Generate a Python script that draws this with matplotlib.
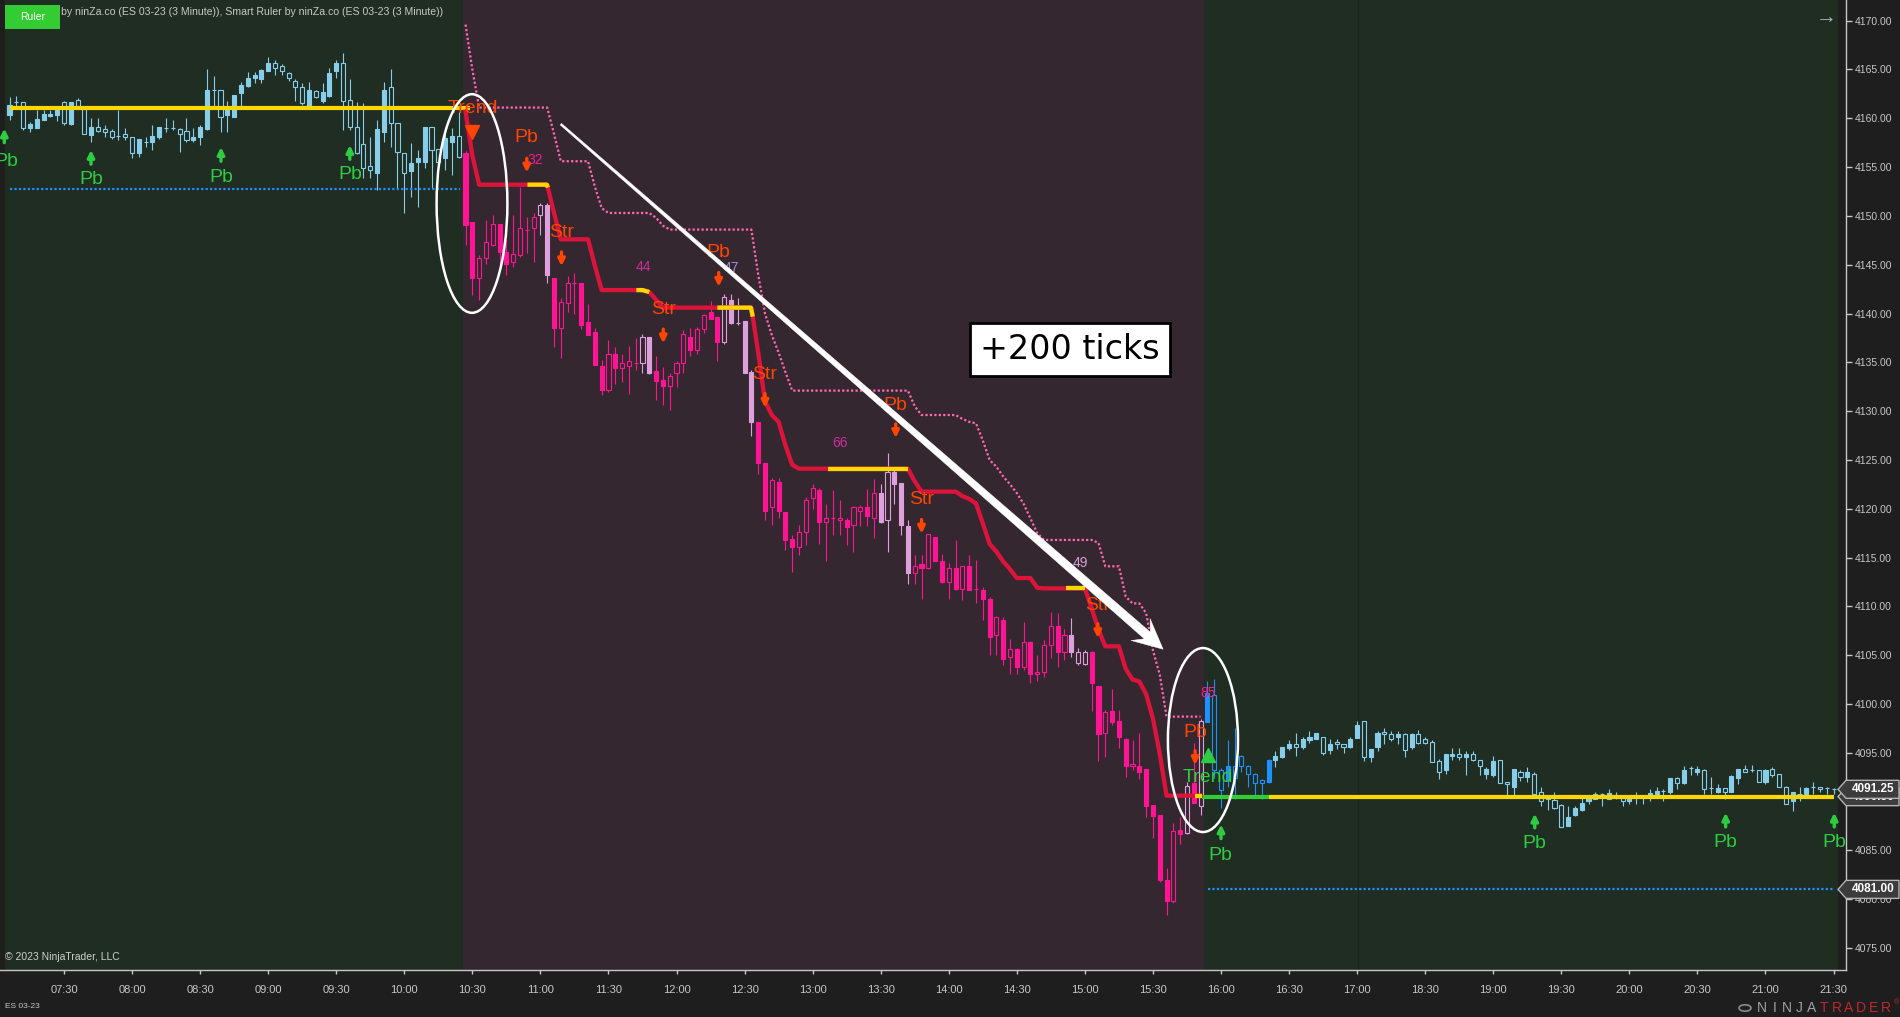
import numpy as np
import matplotlib
matplotlib.use("Agg")
import matplotlib.pyplot as plt
from matplotlib.patches import Ellipse, Polygon, Rectangle, Circle
from matplotlib.collections import LineCollection

plt.rcParams['font.family'] = ['Liberation Sans', 'DejaVu Sans']

# ---------------- data (ES 03-23, 3 minute bars) ----------------
opens = [
    4160.34, 4161.63, 4161.63, 4159.04, 4159.04, 4159.82, 4160.23, 4160.34, 4161.70, 4159.38,
    4161.87, 4160.92, 4158.29, 4159.07, 4158.90, 4158.73, 4158.19, 4158.36, 4158.12, 4156.41,
    4157.60, 4157.60, 4158.12, 4159.04, 4159.04, 4158.87, 4158.70, 4157.78, 4158.12, 4158.87,
    4162.90, 4162.90, 4160.34, 4160.10, 4162.62, 4163.34, 4164.09, 4164.02, 4164.88, 4165.63,
    4165.36, 4164.61, 4163.85, 4163.17, 4161.26, 4162.83, 4161.77, 4162.28, 4164.88, 4165.63,
    4161.87, 4159.07, 4157.37, 4155.11, 4154.36, 4158.63, 4163.17, 4159.55, 4156.41, 4154.63,
    4155.56, 4155.56, 4159.07, 4156.82, 4155.90, 4157.60, 4158.19,
    4156.40, 4149.40, 4143.60,
    4145.65, 4147.00, 4149.14, 4146.30, 4145.30, 4146.00, 4148.60, 4148.80, 4150.10, 4151.10,
    4143.60, 4138.50, 4141.10, 4143.10, 4143.10, 4139.10, 4138.10, 4134.60, 4132.20, 4135.85,
    4134.40, 4134.60, 4134.90, 4134.90, 4137.60, 4134.10, 4133.20, 4132.60, 4133.90, 4134.90,
    4137.60, 4136.30, 4138.40, 4140.20, 4139.60, 4137.10, 4141.40, 4139.06, 4139.20, 4134.00,
    4128.90, 4124.65, 4120.14, 4122.70, 4119.70, 4116.90, 4116.10, 4117.60, 4121.05, 4121.90,
    4118.60, 4119.10, 4118.80, 4118.80, 4118.30, 4119.80, 4120.14, 4119.10, 4121.60, 4118.80,
    4123.80, 4122.60, 4118.20, 4113.40, 4114.30, 4113.90, 4117.10, 4114.60, 4112.50, 4113.90,
    4111.80, 4114.10, 4111.80, 4111.70, 4110.80, 4107.06, 4108.60, 4104.84, 4105.60, 4103.80,
    4106.30, 4103.10, 4103.30, 4106.00, 4107.98, 4105.35, 4107.06, 4104.16, 4104.10, 4105.35,
    4101.80, 4097.05, 4099.30, 4098.20, 4096.40, 4093.60, 4093.60, 4093.30, 4089.60, 4088.60,
    4082.00, 4079.80, 4087.10, 4086.80, 4091.90, 4089.50,
    4098.10, 4100.90, 4093.20, 4092.20,
    4093.60, 4094.70, 4093.60, 4092.80, 4092.20, 4092.00, 4094.30, 4094.60, 4095.50, 4095.90,
    4095.55, 4096.30, 4096.40, 4096.60, 4095.30, 4096.10, 4095.90, 4095.55, 4096.50, 4098.20,
    4094.60, 4095.55, 4097.10, 4096.90, 4096.60, 4096.90, 4095.55, 4096.90, 4096.40, 4096.10,
    4094.20, 4093.20, 4094.70, 4094.90, 4094.60, 4094.90, 4094.30, 4092.80, 4092.70, 4094.30,
    4092.00, 4091.50, 4093.05, 4092.50, 4092.80, 4091.00, 4090.40, 4090.15, 4089.60, 4087.45,
    4088.60, 4089.10, 4090.10, 4090.30, 4090.80, 4090.30, 4090.70, 4090.60, 4090.10, 4090.60,
    4090.60, 4090.60, 4090.80, 4091.10, 4091.00, 4092.40, 4091.90, 4093.40, 4093.05, 4093.20,
    4091.35, 4091.00, 4091.35, 4091.00, 4092.40, 4093.30, 4093.20, 4093.20, 4092.00, 4093.30,
    4092.80, 4091.50, 4090.10, 4090.80, 4090.80, 4091.50, 4091.50, 4091.35, 4091.30,
]
highs = [
    4162.21, 4162.28, 4161.63, 4159.65, 4160.85, 4160.85, 4160.85, 4160.85, 4161.77, 4161.70,
    4162.04, 4160.92, 4159.99, 4159.99, 4159.31, 4158.87, 4160.85, 4158.97, 4158.12, 4157.84,
    4158.12, 4159.31, 4159.07, 4159.99, 4159.82, 4158.97, 4159.99, 4158.97, 4159.31, 4165.01,
    4164.33, 4162.90, 4161.77, 4162.39, 4163.75, 4164.78, 4164.78, 4165.01, 4166.31, 4165.97,
    4165.56, 4164.78, 4163.99, 4163.58, 4163.75, 4162.90, 4163.58, 4165.12, 4165.97, 4166.72,
    4163.99, 4161.70, 4161.53, 4158.12, 4159.82, 4163.75, 4165.01, 4159.55, 4156.41, 4157.50,
    4156.75, 4159.07, 4159.07, 4156.82, 4158.97, 4158.97, 4160.68,
    4156.60, 4149.40, 4146.00,
    4149.60, 4150.10, 4149.20, 4147.50, 4150.10, 4153.00, 4149.90, 4150.30, 4151.30, 4151.30,
    4143.60, 4141.55, 4143.80, 4144.20, 4143.10, 4141.00, 4138.50, 4135.20, 4137.30, 4136.60,
    4135.90, 4136.70, 4137.50, 4137.95, 4137.60, 4135.60, 4134.50, 4133.90, 4135.10, 4138.30,
    4138.50, 4138.60, 4139.95, 4141.30, 4139.70, 4142.00, 4142.00, 4141.55, 4139.20, 4134.20,
    4128.90, 4124.65, 4123.10, 4123.10, 4119.70, 4117.30, 4118.30, 4121.20, 4122.50, 4122.10,
    4120.50, 4121.90, 4120.90, 4119.00, 4120.30, 4120.40, 4122.00, 4123.00, 4122.50, 4125.70,
    4124.30, 4122.60, 4118.80, 4115.30, 4115.30, 4117.40, 4117.10, 4115.40, 4114.40, 4116.80,
    4114.10, 4115.30, 4114.75, 4112.00, 4111.00, 4109.00, 4108.90, 4106.70, 4105.70, 4108.40,
    4106.40, 4105.00, 4106.55, 4109.45, 4109.30, 4107.70, 4108.80, 4105.70, 4105.50, 4105.40,
    4101.80, 4099.40, 4101.50, 4099.40, 4096.50, 4096.30, 4097.00, 4093.30, 4089.60, 4088.60,
    4083.20, 4087.80, 4088.40, 4092.00, 4096.00, 4098.50,
    4102.30, 4102.60, 4093.40, 4096.30,
    4097.50, 4094.80, 4093.70, 4092.90, 4092.30, 4094.40, 4095.20, 4095.60, 4096.30, 4097.00,
    4096.60, 4097.20, 4097.00, 4096.60, 4096.40, 4096.40, 4095.90, 4096.60, 4098.20, 4098.30,
    4095.40, 4097.20, 4097.50, 4097.20, 4097.20, 4097.00, 4097.00, 4097.30, 4096.60, 4096.30,
    4094.40, 4094.90, 4095.50, 4095.50, 4095.20, 4095.20, 4094.30, 4093.50, 4094.70, 4094.30,
    4092.00, 4093.30, 4093.20, 4093.50, 4093.05, 4091.45, 4090.60, 4091.00, 4089.70, 4089.50,
    4089.50, 4090.40, 4090.60, 4091.00, 4090.90, 4091.30, 4091.00, 4090.60, 4090.60, 4091.00,
    4090.60, 4091.30, 4091.50, 4091.30, 4092.40, 4092.50, 4093.60, 4093.60, 4093.60, 4093.30,
    4092.50, 4091.80, 4091.35, 4092.70, 4093.30, 4093.70, 4093.70, 4093.20, 4093.30, 4093.50,
    4092.80, 4091.60, 4091.00, 4091.45, 4091.45, 4092.00, 4091.50, 4091.45, 4091.40,
]
lows = [
    4159.82, 4161.19, 4158.80, 4158.63, 4159.04, 4159.82, 4160.10, 4159.76, 4159.31, 4159.31,
    4161.29, 4158.36, 4157.60, 4158.63, 4158.12, 4157.84, 4157.78, 4157.78, 4155.90, 4156.07,
    4157.09, 4156.75, 4157.84, 4158.63, 4158.80, 4156.58, 4157.60, 4157.60, 4157.26, 4158.80,
    4161.19, 4158.63, 4158.63, 4160.10, 4161.19, 4163.24, 4163.58, 4163.58, 4164.88, 4164.43,
    4164.43, 4163.85, 4161.77, 4161.36, 4161.19, 4162.04, 4161.53, 4162.21, 4164.09, 4158.80,
    4158.80, 4156.34, 4153.85, 4153.85, 4152.65, 4157.60, 4157.09, 4152.82, 4150.33, 4151.97,
    4150.95, 4154.87, 4152.82, 4155.56, 4154.70, 4154.19, 4155.90,
    4147.00, 4141.90, 4141.40,
    4145.10, 4146.90, 4145.00, 4143.90, 4144.80, 4145.80, 4146.20, 4145.30, 4148.00, 4143.10,
    4136.60, 4135.40, 4140.20, 4140.00, 4138.40, 4137.80, 4134.70, 4131.65, 4132.00, 4132.80,
    4133.00, 4131.80, 4134.20, 4133.90, 4133.80, 4131.10, 4130.60, 4130.10, 4132.50, 4133.90,
    4135.60, 4135.85, 4138.00, 4139.40, 4135.10, 4136.90, 4138.90, 4138.80, 4133.90, 4127.40,
    4123.60, 4118.80, 4118.30, 4119.10, 4115.80, 4113.50, 4115.30, 4116.30, 4120.00, 4116.40,
    4114.60, 4117.30, 4117.30, 4116.30, 4115.60, 4118.20, 4118.20, 4117.00, 4118.50, 4115.60,
    4120.50, 4117.30, 4112.30, 4112.30, 4110.80, 4113.80, 4114.60, 4112.40, 4110.80, 4111.70,
    4110.60, 4111.70, 4110.30, 4108.60, 4105.00, 4105.00, 4104.00, 4103.10, 4103.10, 4103.50,
    4102.10, 4102.30, 4102.80, 4104.67, 4103.80, 4104.50, 4104.80, 4104.00, 4104.00, 4099.30,
    4094.20, 4094.60, 4097.80, 4095.50, 4092.50, 4093.20, 4092.30, 4088.40, 4086.30, 4081.80,
    4078.40, 4079.60, 4085.60, 4086.70, 4089.80, 4088.60,
    4098.10, 4092.40, 4089.30, 4091.50,
    4090.30, 4093.05, 4091.50, 4090.70, 4090.30, 4091.90, 4093.50, 4094.50, 4095.30, 4094.70,
    4095.40, 4096.00, 4096.40, 4094.80, 4094.90, 4095.40, 4095.00, 4095.50, 4096.50, 4094.20,
    4094.10, 4095.20, 4095.90, 4096.20, 4095.90, 4094.60, 4095.40, 4095.90, 4095.90, 4094.00,
    4092.30, 4092.80, 4094.30, 4094.30, 4092.70, 4094.20, 4092.70, 4092.30, 4092.50, 4091.90,
    4090.50, 4090.70, 4092.10, 4092.00, 4090.50, 4089.50, 4089.10, 4089.20, 4087.35, 4087.45,
    4088.50, 4089.05, 4089.70, 4090.30, 4089.50, 4090.30, 4090.30, 4089.50, 4089.70, 4089.70,
    4089.70, 4090.10, 4090.60, 4090.10, 4090.80, 4091.25, 4091.80, 4092.70, 4092.70, 4090.80,
    4090.80, 4090.90, 4090.30, 4091.00, 4091.80, 4093.05, 4093.05, 4092.00, 4091.80, 4092.50,
    4091.50, 4089.70, 4089.06, 4090.10, 4090.80, 4090.80, 4091.00, 4090.80, 4090.80,
]
closes = [
    4161.36, 4161.63, 4158.97, 4159.41, 4159.93, 4160.44, 4160.44, 4160.85, 4159.48, 4161.70,
    4161.29, 4158.36, 4159.07, 4158.70, 4158.63, 4158.12, 4158.19, 4158.12, 4156.41, 4157.84,
    4157.60, 4158.19, 4159.07, 4159.04, 4159.04, 4158.40, 4157.78, 4158.12, 4159.07, 4162.90,
    4162.90, 4160.10, 4160.92, 4162.39, 4163.41, 4164.09, 4164.43, 4164.95, 4165.63, 4165.12,
    4164.88, 4164.09, 4163.17, 4161.60, 4162.90, 4162.21, 4162.66, 4164.67, 4165.63, 4161.80,
    4159.07, 4156.41, 4154.87, 4154.70, 4158.87, 4162.90, 4159.55, 4156.58, 4154.36, 4155.38,
    4155.90, 4159.07, 4156.75, 4155.56, 4157.95, 4158.19, 4156.07,
    4149.07, 4143.60, 4145.65,
    4147.36, 4149.14, 4146.30, 4145.10, 4146.10, 4148.80, 4148.60, 4149.90, 4151.10, 4143.90,
    4138.50, 4141.20, 4143.10, 4143.10, 4138.80, 4137.80, 4134.70, 4132.20, 4135.85, 4134.40,
    4134.90, 4135.10, 4134.90, 4137.60, 4133.90, 4133.10, 4132.60, 4133.60, 4134.90, 4137.90,
    4136.30, 4138.40, 4139.80, 4139.40, 4137.10, 4141.65, 4139.06, 4139.06, 4133.90, 4128.90,
    4124.65, 4119.80, 4122.90, 4119.80, 4116.80, 4116.10, 4117.60, 4120.90, 4122.10, 4118.60,
    4119.10, 4119.10, 4119.10, 4118.10, 4120.14, 4120.14, 4119.25, 4121.60, 4118.60, 4123.80,
    4122.50, 4118.30, 4113.40, 4114.10, 4113.90, 4117.40, 4114.60, 4112.50, 4113.90, 4111.80,
    4114.10, 4111.70, 4111.80, 4110.80, 4106.90, 4108.87, 4104.57, 4105.60, 4103.80, 4106.30,
    4103.10, 4103.30, 4106.00, 4107.98, 4105.35, 4107.06, 4105.35, 4105.35, 4105.35, 4102.10,
    4096.90, 4099.20, 4098.10, 4096.60, 4093.60, 4093.85, 4093.05, 4089.50, 4088.50, 4081.96,
    4079.80, 4087.00, 4086.70, 4091.60, 4089.90, 4098.30,
    4101.10, 4093.20, 4091.20, 4093.60,
    4092.40, 4093.60, 4092.80, 4091.90, 4091.90, 4094.30, 4094.70, 4095.55, 4095.90, 4095.55,
    4096.40, 4096.60, 4097.00, 4095.00, 4095.90, 4095.90, 4095.55, 4096.40, 4097.80, 4094.60,
    4095.35, 4097.00, 4096.90, 4096.40, 4096.90, 4095.30, 4096.90, 4096.00, 4096.00, 4094.10,
    4093.05, 4094.90, 4094.90, 4094.60, 4094.90, 4094.30, 4093.60, 4093.30, 4094.20, 4091.90,
    4091.80, 4093.30, 4092.50, 4093.05, 4090.80, 4090.10, 4090.25, 4089.30, 4087.35, 4088.40,
    4089.30, 4089.80, 4090.40, 4090.80, 4090.80, 4090.90, 4090.70, 4090.10, 4090.40, 4090.60,
    4090.60, 4090.90, 4091.10, 4091.10, 4092.40, 4091.90, 4093.20, 4093.40, 4093.30, 4091.25,
    4091.35, 4091.35, 4091.00, 4092.60, 4093.30, 4093.05, 4093.20, 4092.00, 4093.20, 4092.70,
    4091.50, 4089.70, 4091.00, 4090.80, 4091.35, 4091.50, 4091.25, 4091.35, 4091.25,
]

# trend state: bars before 67 and from 176 on are up/flat, in between down
down_trend_start = 67
up_trend_start = 176
signal_bars_end = 185
pullback_bars = [78, 79, 93, 94, 105, 106, 107, 108, 109, 128, 129, 130, 131, 132,
                 156, 157, 158, 173, 175]

# trailing trend line and dotted stop line, bars 67..175
trend_line = [
    4160.7, 4156.2, 4153.2, 4153.2, 4153.2, 4153.2, 4153.2, 4153.2, 4153.2, 4153.2,
    4153.2, 4153.2, 4153.2, 4150.3, 4147.6, 4147.6, 4147.6, 4147.6, 4147.6, 4144.9,
    4142.4, 4142.4, 4142.4, 4142.4, 4142.4, 4142.4, 4142.4, 4142.2, 4141.4, 4140.6,
    4140.6, 4140.6, 4140.6, 4140.6, 4140.6, 4140.6, 4140.6, 4140.6, 4140.6, 4140.6,
    4140.6, 4140.6, 4140.6, 4136.0, 4131.0, 4129.6, 4128.9, 4126.5, 4124.5, 4124.1,
    4124.1, 4124.1, 4124.1, 4124.1, 4124.1, 4124.1, 4124.1, 4124.1, 4124.1, 4124.1,
    4124.1, 4124.1, 4124.1, 4124.1, 4124.1, 4124.1, 4122.8, 4121.75, 4121.75, 4121.75,
    4121.75, 4121.75, 4121.75, 4121.3, 4121.0, 4120.55, 4118.5, 4116.4, 4115.6, 4114.6,
    4113.8, 4112.9, 4112.9, 4112.9, 4111.9, 4111.84, 4111.84, 4111.84, 4111.84, 4111.84,
    4111.84, 4111.84, 4109.8, 4107.6, 4105.9, 4105.9, 4105.9, 4103.6, 4102.5, 4102.3,
    4101.0, 4098.5, 4094.9, 4090.6, 4090.6, 4090.6, 4090.6, 4090.6, 4090.6,
]
stop_line = [
    4169.6, 4165.0, 4161.1, 4161.1, 4161.1, 4161.1, 4161.1, 4161.1, 4161.1, 4161.1,
    4161.1, 4161.1, 4161.1, 4158.4, 4155.6, 4155.6, 4155.6, 4155.6, 4155.6, 4153.0,
    4150.8, 4150.3, 4150.3, 4150.3, 4150.3, 4150.3, 4150.3, 4150.3, 4149.8, 4149.0,
    4148.6, 4148.6, 4148.6, 4148.6, 4148.6, 4148.6, 4148.6, 4148.6, 4148.6, 4148.6,
    4148.6, 4148.6, 4148.6, 4144.0, 4140.0, 4137.8, 4136.0, 4134.0, 4132.1, 4132.1,
    4132.1, 4132.1, 4132.1, 4132.1, 4132.1, 4132.1, 4132.1, 4132.1, 4132.1, 4132.1,
    4132.1, 4132.1, 4132.1, 4132.1, 4132.1, 4132.1, 4130.5, 4129.6, 4129.6, 4129.6,
    4129.6, 4129.6, 4129.6, 4129.2, 4128.9, 4128.75, 4127.0, 4125.0, 4124.3, 4123.3,
    4122.5, 4121.6, 4120.5, 4119.0, 4117.5, 4116.8, 4116.8, 4116.8, 4116.8, 4116.8,
    4116.8, 4116.8, 4116.8, 4116.5, 4114.1, 4114.1, 4114.1, 4111.0, 4110.3, 4110.3,
    4109.3, 4105.5, 4103.0, 4098.7, 4098.7, 4098.7, 4098.7, 4098.7, 4098.7,
]
pullback_segments = [(76.1, 79.1), (92.1, 94.0), (104.0, 109.2), (120.3, 132.0),
                     (155.2, 158.0), (174.2, 175.2)]

ruler_am, stop_am = 4161.1, 4152.8
ruler_pm, stop_pm = 4090.5, 4081.0

# signal labels
label_text = ['Trend', 'Pb', 'Str', 'Str', 'Pb', 'Str', 'Pb', 'Str', 'Str', 'Pb',
              'Trend', 'Pb', 'Pb', 'Pb', 'Pb', 'Pb', 'Pb', 'Pb', 'Pb']
label_bar = [68.1, 76.0, 81.1, 96.05, 104.2, 111.0, 130.2, 134.0, 159.9, 174.2,
             176.0, -0.42, 12.07, 31.07, 50.0, 177.85, 224.1, 252.15, 268.1]
label_price = [4161.0, 4158.0, 4148.3, 4140.4, 4146.2, 4133.7, 4130.6, 4120.9, 4110.1, 4097.05,
               4092.5, 4155.55, 4153.7, 4153.95, 4154.2, 4084.5, 4085.7, 4085.8, 4085.8]
label_side = ['dn'] * 10 + ['up'] * 9

down_arrow_bar = [76.0, 81.1, 96.05, 104.2, 111.0, 130.2, 134.0, 159.9, 174.2]
down_arrow_top = [4155.9, 4146.3, 4138.4, 4144.2, 4131.8, 4128.7, 4118.9, 4108.2, 4095.2]
up_arrow_bar = [-0.77, 11.97, 31.07, 50.0, 178.0, 224.1, 252.15, 268.1]
up_arrow_base = [4157.5, 4155.3, 4155.6, 4155.8, 4086.2, 4087.3, 4087.4, 4087.4]

count_text = ['32', '44', '47', '66', '49', '85']
count_bar = [77.2, 93.2, 106.1, 122.0, 157.3, 176.1]
count_price = [4155.7, 4144.8, 4144.7, 4126.7, 4114.4, 4101.15]
count_color = ['#e8208f', '#c8309f', '#9a8fd0', '#c8309f', '#d8a0d8', '#ff1a8c']

time_labels = ['07:30', '08:00', '08:30', '09:00', '09:30', '10:00', '10:30', '11:00',
               '11:30', '12:00', '12:30', '13:00', '13:30', '14:00', '14:30', '15:00',
               '15:30', '16:00', '16:30', '17:00', '18:30', '19:00', '19:30', '20:00',
               '20:30', '21:00', '21:30']
price_ticks = [4075, 4080, 4085, 4090, 4095, 4100, 4105, 4110, 4115, 4120,
               4125, 4130, 4135, 4140, 4145, 4150, 4155, 4160, 4165, 4170]

# ---------------- styling ----------------
BG = '#1e1e1e'
GREEN_BG = '#202d22'
MAROON_BG = '#35272f'
TXT = '#c8c8c8'
ORANGE = '#ff4500'
LIME = '#2ecc40'

n = len(closes)

# bar times -> positions of time labels (17:00-18:00 session break)
bar_times = []
for k in range(199):
    m = 7 * 60 + 6 + 3 * k
    bar_times.append('%02d:%02d' % (m // 60, m % 60))
for k in range(n - 199):
    m = 18 * 60 + 3 + 3 * k
    bar_times.append('%02d:%02d' % (m // 60, m % 60))
tick_pos = [bar_times.index(t) for t in time_labels]

fig = plt.figure(figsize=(19, 10.17), dpi=100, facecolor=BG)
ax = fig.add_axes([0, 47 / 1017, 1846 / 1900, 970 / 1017], facecolor=BG)
ax.set_xlim(-1.40, 269.83)
ax.set_ylim(4072.74, 4172.12)
ax.set_autoscale_on(False)

# background state regions
ax.axvspan(-0.67, 66.6, color=GREEN_BG, lw=0, zorder=0)
ax.axvspan(66.6, 175.5, color=MAROON_BG, lw=0, zorder=0)
ax.axvspan(175.5, 268.65, color=GREEN_BG, lw=0, zorder=0)
ax.axvline(198.1, color='#1b271d', lw=0.8, zorder=0.5)

# candles
wicks = []
wick_cols = []
for i in range(n):
    o, h, l, c = opens[i], highs[i], lows[i], closes[i]
    in_down = down_trend_start <= i < up_trend_start
    if in_down:
        col = '#dda0dd' if i in pullback_bars else '#ff1493'
        filled = c < o
    else:
        col = '#1e90ff' if up_trend_start <= i <= signal_bars_end else '#87ceeb'
        filled = c > o
    top, bot = max(o, c), min(o, c)
    if filled or top == bot:
        wicks.append([(i, l), (i, h)])
        wick_cols.append(col)
    else:
        wicks.append([(i, top), (i, h)])
        wicks.append([(i, l), (i, bot)])
        wick_cols += [col, col]
    ax.bar(i, top - bot, bottom=bot, width=0.6,
           facecolor=col if filled else 'none', edgecolor=col, lw=0.8, zorder=2)
ax.add_collection(LineCollection(wicks, colors=wick_cols, linewidths=0.8, zorder=1.9))

# ruler / stop lines
ax.plot([0, 67.6], [ruler_am, ruler_am], color='#ffd700', lw=3, zorder=3, solid_capstyle='butt')
ax.plot([0, 66.2], [stop_am, stop_am], color='#1e90ff', lw=1.6, ls=(0, (1, 1)), zorder=3)
ax.plot([175.2, 185], [ruler_pm, ruler_pm], color='#32cd32', lw=3, zorder=3, solid_capstyle='butt')
ax.plot([185, 268.1], [ruler_pm, ruler_pm], color='#ffd700', lw=3, zorder=3, solid_capstyle='butt')
ax.plot([176.1, 268.1], [stop_pm, stop_pm], color='#1e90ff', lw=1.6, ls=(0, (1, 1)), zorder=3)

tx = np.arange(down_trend_start, down_trend_start + len(trend_line))
ax.plot(tx, stop_line, color='#ff69b4', lw=1.6, ls=(0, (1, 1)), zorder=3)
ax.plot(tx, trend_line, color='#dc143c', lw=3.1, zorder=3, solid_joinstyle='round')
for a, b in pullback_segments:
    xs = np.linspace(a, b, 20)
    ax.plot(xs, np.interp(xs, tx, trend_line), color='#ffd700', lw=3.1, zorder=3.1,
            solid_capstyle='butt')

# signal labels and arrows
for t, b, p, s in zip(label_text, label_bar, label_price, label_side):
    ax.text(b, p, t, color=ORANGE if s == 'dn' else LIME, fontsize=14,
            ha='center', va='center', zorder=4, clip_on=True)
for b, p in zip(down_arrow_bar, down_arrow_top):
    ax.annotate('', xy=(b, p - 1.45), xytext=(b, p), zorder=4,
                arrowprops=dict(arrowstyle='-|>', color=ORANGE, lw=2.4,
                                mutation_scale=10, shrinkA=0, shrinkB=0))
for b, p in zip(up_arrow_bar, up_arrow_base):
    ax.annotate('', xy=(b, p + 1.45), xytext=(b, p), zorder=4,
                arrowprops=dict(arrowstyle='-|>', color=LIME, lw=2.4,
                                mutation_scale=10, shrinkA=0, shrinkB=0))
for t, b, p, c in zip(count_text, count_bar, count_price, count_color):
    ax.text(b, p, t, color=c, fontsize=10, ha='center', va='center', zorder=4)
ax.plot(67.95, 4158.6, marker='v', color=ORANGE, markersize=10, zorder=4)
ax.plot(176.1, 4094.8, marker='^', color=LIME, markersize=10, zorder=4)

# circles
ax.add_patch(Ellipse((67.95, 4151.27), 10.4, 22.4, fill=False, ec='white', lw=1.8, zorder=6))
ax.add_patch(Ellipse((175.35, 4096.3), 10.3, 18.85, fill=False, ec='white', lw=1.8, zorder=6))

# tapered white arrow (built in pixel space, drawn in data space)
p0 = ax.transData.transform((81.0, 4159.4))
p1 = ax.transData.transform((169.5, 4105.6))
d = p1 - p0
u = d / np.hypot(*d)
nv = np.array([-u[1], u[0]])
w0, w1, head_len, head_half = 2.0, 9.0, 30.0, 14.5
neck = p1 - u * head_len * 0.7
back = p1 - u * head_len
pts = [p0 + nv * w0 / 2, neck + nv * w1 / 2, back + nv * head_half, p1,
       back - nv * head_half, neck - nv * w1 / 2, p0 - nv * w0 / 2]
pts = ax.transData.inverted().transform(np.array(pts))
ax.add_patch(Polygon(pts, closed=True, fc='white', ec='white', lw=0.3, zorder=7))

ax.text(155.8, 4136.3, '+200 ticks', fontsize=24, family='DejaVu Sans', color='black',
        ha='center', va='center', zorder=8,
        bbox=dict(boxstyle='square,pad=0.3', fc='white', ec='black', lw=2))

# axes, ticks
for s in ['left', 'top']:
    ax.spines[s].set_visible(False)
for s in ['bottom', 'right']:
    ax.spines[s].set_color(TXT)
    ax.spines[s].set_linewidth(1)
ax.yaxis.tick_right()
ax.set_yticks(price_ticks)
ax.set_yticklabels(['%.2f' % v for v in price_ticks])
ax.set_xticks(tick_pos)
ax.set_xticklabels(time_labels)
ax.tick_params(axis='y', colors=TXT, labelsize=7.5, length=4, width=1, pad=2)
ax.tick_params(axis='x', colors=TXT, labelsize=8, length=3, width=1, pad=8)

# price markers on the right axis
def price_marker(price, label, z):
    y = ax.transData.transform((0, price))[1]
    box = np.array([(1838, y), (1846, y + 9), (1899, y + 9), (1899, y - 9), (1846, y - 9)])
    box = fig.transFigure.inverted().transform(box)
    patch = Polygon(box, closed=True, transform=fig.transFigure,
                    fc='#3c3c3c', ec='#b4b4b4', lw=1, zorder=z)
    fig.add_artist(patch)
    fig.text(1873 / 1900, y / 1017, label, color='white', fontsize=8.5, fontweight='bold',
             ha='center', va='center', zorder=z + 0.5)

price_marker(4090.50, '4090.50', 10)
price_marker(closes[-1], '%.2f' % closes[-1], 12)
price_marker(stop_pm, '%.2f' % stop_pm, 12)

# header, footer
fig.add_artist(Rectangle((5 / 1900, 1 - 29 / 1017), 55 / 1900, 24 / 1017,
                         transform=fig.transFigure, fc='#33cc33', ec='none', zorder=10))
fig.text(33 / 1900, 1 - 17 / 1017, 'Ruler', color='white', fontsize=7.5,
         ha='center', va='center', zorder=11)
fig.text(61 / 1900, 1 - 12 / 1017,
         'by ninZa.co (ES 03-23 (3 Minute)), Smart Ruler by ninZa.co (ES 03-23 (3 Minute))',
         color=TXT, fontsize=7.6, ha='left', va='center', zorder=11)
fig.text(1826 / 1900, 1 - 18 / 1017, '\u2192', color='#b4b4b4', fontsize=15,
         ha='center', va='center')
fig.text(5 / 1900, 1 - 957 / 1017, '\u00a9 2023 NinjaTrader, LLC', color='#d0d0d0',
         fontsize=7.5, ha='left', va='center')
fig.text(5 / 1900, 1 - 1007 / 1017, 'ES 03-23', color=TXT, fontsize=6, ha='left', va='center')

logo = 'NINJATRADER'
for k, ch in enumerate(logo):
    fig.text((1762 + k * 12.4) / 1900, 1 - 1008 / 1017, ch,
             color='#a0a0a0' if k < 5 else '#c0272d', fontsize=10, ha='center', va='center')
fig.text(1896 / 1900, 1 - 1003 / 1017, '\u00ae', color='#c0272d', fontsize=5,
         ha='center', va='center')
fig.add_artist(Circle((1745 / 1900, 1 - 1008 / 1017), 6 / 1900, transform=fig.transFigure,
                      fill=False, ec='#8a8a8a', lw=1.2))

fig.savefig('out.png', dpi=100, facecolor=BG)
